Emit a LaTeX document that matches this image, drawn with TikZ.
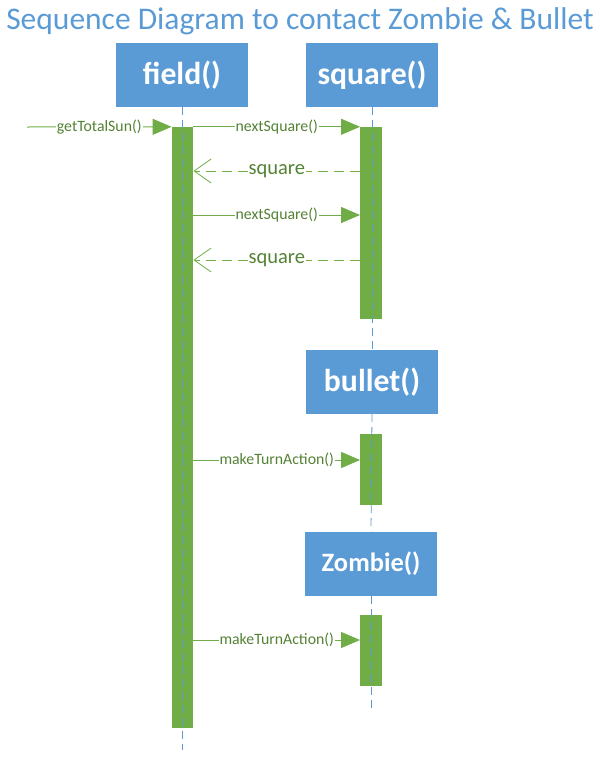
\documentclass[tikz,border=0pt]{standalone}
\usepackage{fontspec}
\setmainfont{Carlito}
\usetikzlibrary{arrows.meta,calc}
\definecolor{boxblue}{HTML}{5B9BD5}
\definecolor{titleblue}{HTML}{5B9BD5}
\definecolor{actgreen}{HTML}{70AD47}
\definecolor{txtgreen}{HTML}{548235}
\begin{document}
\begin{tikzpicture}[x=1pt,y=-1pt,
  obj/.style={fill=boxblue, text=white, font=\bfseries\fontsize{31.7}{38}\selectfont, minimum width=132pt, minimum height=64pt, inner sep=0pt},
  act/.style={fill=actgreen, minimum width=21.5pt, inner sep=0pt},
  life/.style={draw=boxblue, line width=0.8pt, dash pattern=on 8pt off 5pt},
  msg/.style={draw=actgreen, line width=1pt, -{Triangle[length=19pt,width=16pt]}},
  ret/.style={draw=actgreen, line width=1pt, dash pattern=on 10pt off 6pt, -{Straight Barb[length=17pt,width=24pt,line width=0.8pt]}},
  lbl/.style={fill=white, text=txtgreen, inner sep=1pt, font=\fontsize{15.8}{18}\selectfont},
  rlbl/.style={fill=white, text=txtgreen, inner sep=1pt, font=\fontsize{20.5}{24}\selectfont}
]
\useasboundingbox (0,0) rectangle (602,758);

\node[text=titleblue, font=\fontsize{31.5}{38}\selectfont, anchor=base] (title) at (300,29) {Sequence Diagram to contact Zombie \& Bullet};

\node[obj] (field) at (182,75) {field()};
\node[obj] (square) at (372,75) {square()};
\node[obj] (bullet) at (372,382) {bullet()};
\node[obj, font=\bfseries\fontsize{26.5}{32}\selectfont] (zombie) at (371,563.5) {Zombie()};

\node[act, minimum height=601pt] (fa) at (182.5,427.5) {};
\node[act, minimum height=192pt] (sa) at (371,223) {};
\node[act, minimum height=71pt] (ba) at (371,469.5) {};
\node[act, minimum height=71pt] (za) at (371,650.5) {};

\coordinate (fend) at (182,750);
\coordinate (zend) at (371,708);
\draw[life] (field.south) -- (fend);
\draw[life] (square.south) -- (bullet.north);
\draw[life] (bullet.south) -- (zombie.north);
\draw[life] (zombie.south) -- (zend);

\coordinate (start) at (27,127);
\draw[msg] (start) -- node[lbl]{getTotalSun()} (fa.north west);
\draw[msg] (fa.north east) -- node[lbl]{nextSquare()} (sa.north west);
\draw[ret] (sa.west |- 0,171) -- node[rlbl]{square} (fa.east |- 0,171);
\draw[msg] (fa.east |- 0,215) -- node[lbl]{nextSquare()} (sa.west |- 0,215);
\draw[ret] (sa.west |- 0,260) -- node[rlbl]{square} (fa.east |- 0,260);
\draw[msg] (fa.east |- 0,460) -- node[lbl]{makeTurnAction()} (ba.west |- 0,460);
\draw[msg] (fa.east |- 0,640) -- node[lbl]{makeTurnAction()} (za.west |- 0,640);
\end{tikzpicture}
\end{document}
